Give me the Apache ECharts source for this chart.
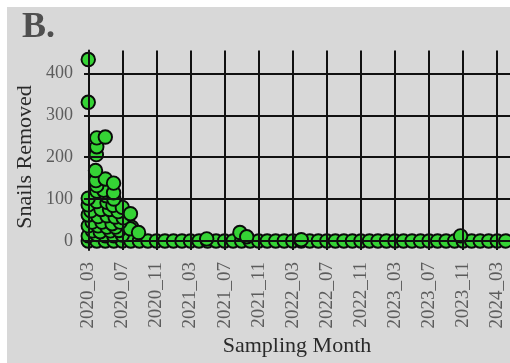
<!DOCTYPE html>
<html>
<head>
<meta charset="utf-8">
<script src="https://cdn.jsdelivr.net/npm/echarts@6/dist/echarts.min.js"></script>
<style>
  html, body { margin: 0; padding: 0; background: #ffffff; }
  #chart { width: 510px; height: 363px; }
</style>
</head>
<body>
<div id="chart"></div>
<script>
// Sampling months, in order (position 0 = 2020_03)
const monthLabels = [
  '2020_03','2020_04','2020_05','2020_06','2020_07','2020_08','2020_09','2020_10',
  '2020_11','2020_12','2021_01','2021_02','2021_03','2021_04','2021_05','2021_06',
  '2021_07','2021_08','2021_09','2021_10','2021_11','2021_12','2022_01','2022_02',
  '2022_03','2022_04','2022_05','2022_06','2022_07','2022_08','2022_09','2022_10',
  '2022_11','2022_12','2023_01','2023_02','2023_03','2023_04','2023_05','2023_06',
  '2023_07','2023_08','2023_09','2023_10','2023_11','2023_12','2024_01','2024_02',
  '2024_03','2024_04'
];

// Months that get a tick label and a vertical grid line
const labelledMonths = [
  '2020_03','2020_07','2020_11','2021_03','2021_07','2021_11','2022_03',
  '2022_07','2022_11','2023_03','2023_07','2023_11','2024_03'
];

// Y axis tick values
const yTicks = [0, 100, 200, 300, 400];

// Sample position in months since 2020_03 (points are spread a little within a month)
const samplePos = [
  // zero counts, one row across all months
  0, 1, 2, 3, 4, 5, 6, 7, 8, 9, 10, 11, 12, 13, 14, 15, 16, 17, 18, 19,
  20, 21, 22, 23, 24, 25, 26, 27, 28, 29, 30, 31, 32, 33, 34, 35, 36, 37, 38, 39,
  40, 41, 42, 43, 44, 45, 46, 47, 48, 49,
  // spring / summer 2020 removals
  0, 1, 2, 3, 4,
  0.5, 1.4, 2.6, 3.6,
  0, 1.15, 2.2, 3.2, 5.1, 4.93,
  0.45, 1.6, 2.8, 3.75,
  0, 1.15, 2.2, 3.15, 4.1,
  0.3, 1.5, 2.5, 3.5,
  0, 1.0, 2.2, 2.9, 4.0, 4.95,
  2.1, 3.0,
  0, 1.0, 1.8, 2.97,
  1.0,
  0.9, 2.0, 2.97,
  0.85,
  0.95, 1.0, 1.0, 2.0,
  0, 0,
  5.9,
  // isolated later removals
  13.9, 17.8, 18.6, 25, 43.7
];

// Snails removed in each sample (same order as samplePos)
const snailsRemoved = [
  0, 0, 0, 0, 0, 0, 0, 0, 0, 0, 0, 0, 0, 0, 0, 0, 0, 0, 0, 0,
  0, 0, 0, 0, 0, 0, 0, 0, 0, 0, 0, 0, 0, 0, 0, 0, 0, 0, 0, 0,
  0, 0, 0, 0, 0, 0, 0, 0, 0, 0,
  12, 15, 12, 12, 14,
  24, 22, 24, 25,
  36, 36, 33, 33, 33, 29,
  45, 45, 41, 45,
  62, 58, 60, 57, 55,
  72, 75, 75, 70,
  86, 94, 92, 85, 80, 65,
  108, 100,
  102, 119, 121, 115,
  132,
  144, 148, 138,
  168,
  206, 225, 246, 248,
  331, 433,
  20,
  5, 20, 10, 3, 12
];

const points = samplePos.map((p, i) => [p, snailsRemoved[i]]);
const labelledPos = labelledMonths.map(m => monthLabels.indexOf(m));

// y range padded by 5% of the data span on each side
const dataMin = Math.min(...snailsRemoved);
const dataMax = Math.max(...snailsRemoved);
const pad = (dataMax - dataMin) * 0.05;

const serif = 'Liberation Serif';
const chart = echarts.init(document.getElementById('chart'), null, { renderer: 'canvas' });

chart.setOption({
  animation: false,
  backgroundColor: '#ffffff',
  graphic: [
    { type: 'rect', z: -10, shape: { x: 7, y: 7, width: 510, height: 363 }, style: { fill: '#d8d8d8' } },
    { type: 'text', left: 22, top: 10, style: { text: 'B.', font: 'bold 36px "Liberation Serif"', fill: '#4f4f4f' } },
    { type: 'text', x: 25, y: 157, rotation: Math.PI / 2,
      style: { text: 'Snails Removed', font: '22px "Liberation Serif"', fill: '#2a2a2a', align: 'center', verticalAlign: 'middle' } },
    { type: 'text', x: 297, y: 346,
      style: { text: 'Sampling Month', font: '22px "Liberation Serif"', fill: '#2a2a2a', align: 'center', verticalAlign: 'middle' } }
  ],
  grid: { left: 84, right: 0, top: 50.5, bottom: 113, containLabel: false },
  xAxis: {
    type: 'value',
    min: -0.5,
    max: monthLabels.length - 0.5,
    axisLine: { show: false },
    axisTick: { show: false },
    splitLine: { show: false },
    axisLabel: {
      customValues: labelledPos,
      formatter: v => monthLabels[Math.round(v)],
      rotate: 90, margin: 12,
      fontFamily: serif, fontSize: 19, color: '#5c5c5c'
    }
  },
  yAxis: {
    type: 'value',
    min: dataMin - pad,
    max: dataMax + pad,
    axisLine: { show: true, lineStyle: { color: '#111111', width: 2 } },
    axisTick: { show: false },
    splitLine: { show: false },
    axisLabel: {
      customValues: yTicks, margin: 11,
      fontFamily: serif, fontSize: 18, color: '#5c5c5c'
    }
  },
  series: [
    {
      type: 'line',
      data: [],
      z: 1,
      silent: true,
      markLine: {
        silent: true,
        symbol: 'none',
        label: { show: false },
        lineStyle: { color: '#111111', width: 2, type: 'solid' },
        emphasis: { disabled: true },
        data: [
          ...labelledPos.map(p => ({ xAxis: p })),
          ...yTicks.map(v => ({ yAxis: v }))
        ]
      }
    },
    {
      type: 'scatter',
      z: 3,
      data: points,
      symbol: 'circle',
      symbolSize: 13.5,
      itemStyle: { color: '#35d335', borderColor: '#0a0a0a', borderWidth: 1.9, opacity: 1 }
    }
  ]
});
</script>
</body>
</html>
